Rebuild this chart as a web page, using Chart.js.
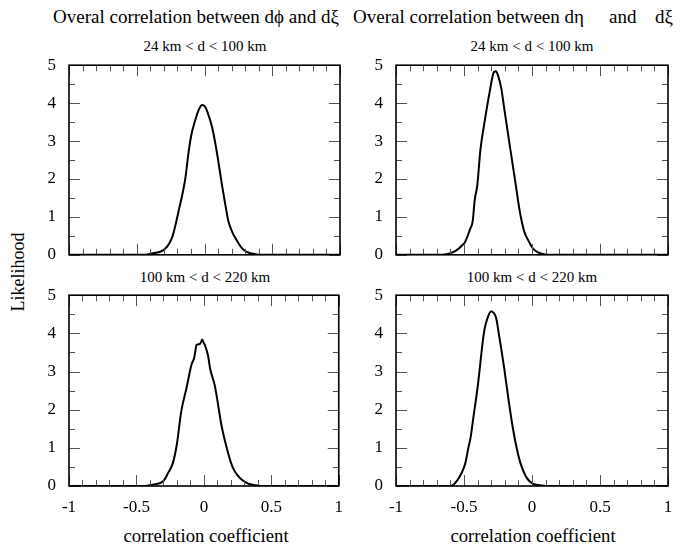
<!DOCTYPE html>
<html>
<head>
<meta charset="utf-8">
<script src="https://cdn.jsdelivr.net/npm/chart.js@4.4.0/dist/chart.umd.min.js"></script>
<style>
  body { margin: 0; background: #fff; }
  #page { position: relative; width: 693px; height: 548px; overflow: hidden; font-family: "Liberation Serif", "Times New Roman", serif; color: #000; }
  .box { position: absolute; }
  .txt { position: absolute; white-space: pre; transform: translate(-50%, -50%); line-height: 1; }
  .ttl { position: absolute; white-space: pre; transform: translate(0, -50%); line-height: 1; font-size: 19px; }
</style>
</head>
<body>
<div id="page">
  <div class="ttl" style="left:53px; top:16px;">Overal correlation between dϕ and dξ</div>
  <div class="ttl" style="left:353px; top:16px;">Overal correlation between dη</div>
  <div class="ttl" style="left:609px; top:16px;">and</div>
  <div class="ttl" style="left:655px; top:16px;">dξ</div>
  <div class="txt" style="left:205px; top:46px; font-size:15px;">24 km &lt; d &lt; 100 km</div>
  <div class="txt" style="left:532px; top:46px; font-size:15px;">24 km &lt; d &lt; 100 km</div>
  <div class="txt" style="left:205px; top:277px; font-size:15px;">100 km &lt; d &lt; 220 km</div>
  <div class="txt" style="left:532px; top:277px; font-size:15px;">100 km &lt; d &lt; 220 km</div>
  <div class="txt" style="left:206px; top:536px; font-size:18.7px;">correlation coefficient</div>
  <div class="txt" style="left:533px; top:536px; font-size:18.7px;">correlation coefficient</div>
  <div class="txt" style="left:18px; top:272px; font-size:18px; transform: translate(-50%, -50%) rotate(-90deg);">Likelihood</div>

  <div class="box" style="left:0; top:50px; width:346px; height:220px;"><canvas id="c1"></canvas></div>
  <div class="box" style="left:346px; top:50px; width:347px; height:220px;"><canvas id="c2"></canvas></div>
  <div class="box" style="left:0; top:280px; width:346px; height:235px;"><canvas id="c3"></canvas></div>
  <div class="box" style="left:346px; top:280px; width:347px; height:235px;"><canvas id="c4"></canvas></div>
</div>

<script>
// ---- data ----
const xTicks = [-1, -0.5, 0, 0.5, 1];
const yTicks = [0, 1, 2, 3, 4, 5];

// d(phi) vs d(xi), 24 km < d < 100 km
const phiNearX = [-1, -0.44, -0.40, -0.35, -0.30, -0.26, -0.235, -0.21, -0.185, -0.16, -0.14, -0.116, -0.095, -0.074, -0.042, -0.017, 0.005, 0.02, 0.057, 0.089, 0.131, 0.150, 0.176, 0.205, 0.238, 0.27, 0.30, 0.34, 0.385, 0.43, 1];
const phiNearY = [0, 0, 0.03, 0.06, 0.13, 0.30, 0.50, 0.85, 1.25, 1.65, 2.05, 2.75, 3.2, 3.48, 3.83, 3.95, 3.9, 3.78, 3.35, 2.75, 1.80, 1.4, 0.89, 0.60, 0.38, 0.20, 0.10, 0.04, 0.01, 0, 0];

// d(eta) vs d(xi), 24 km < d < 100 km
const etaNearX = [-1, -0.66, -0.62, -0.58, -0.54, -0.517, -0.493, -0.456, -0.436, -0.421, -0.402, -0.38, -0.348, -0.311, -0.28, -0.265, -0.25, -0.226, -0.201, -0.165, -0.128, -0.092, -0.076, -0.055, -0.027, 0.0, 0.035, 0.07, 0.12, 1];
const etaNearY = [0, 0, 0.02, 0.07, 0.16, 0.24, 0.33, 0.67, 0.89, 1.45, 1.84, 2.75, 3.52, 4.30, 4.82, 4.84, 4.73, 4.39, 3.78, 2.92, 2.05, 1.19, 0.89, 0.59, 0.38, 0.20, 0.08, 0.03, 0, 0];

// d(phi) vs d(xi), 100 km < d < 220 km
const phiFarX = [-1, -0.45, -0.42, -0.37, -0.30, -0.264, -0.23, -0.20, -0.168, -0.128, -0.091, -0.075, -0.067, -0.054, -0.03, -0.02, -0.013, 0.0, 0.007, 0.032, 0.045, 0.057, 0.081, 0.13, 0.155, 0.18, 0.20, 0.222, 0.25, 0.286, 0.33, 0.385, 0.42, 1];
const phiFarY = [0, 0, 0.01, 0.04, 0.13, 0.35, 0.6, 1.1, 1.95, 2.58, 3.19, 3.32, 3.45, 3.70, 3.72, 3.78, 3.84, 3.74, 3.70, 3.40, 3.1, 2.93, 2.63, 1.6, 1.2, 0.86, 0.62, 0.43, 0.28, 0.15, 0.06, 0.02, 0, 0];

// d(eta) vs d(xi), 100 km < d < 220 km
const etaFarX = [-1, -0.63, -0.59, -0.555, -0.518, -0.49, -0.468, -0.45, -0.434, -0.397, -0.365, -0.348, -0.324, -0.30, -0.285, -0.265, -0.24, -0.205, -0.17, -0.14, -0.11, -0.085, -0.062, -0.04, -0.016, 0.02, 0.06, 0.1, 1];
const etaFarY = [0, 0, 0.01, 0.12, 0.34, 0.6, 1.0, 1.3, 1.72, 2.67, 3.70, 4.13, 4.43, 4.58, 4.55, 4.42, 3.9, 3.1, 2.2, 1.5, 0.95, 0.6, 0.38, 0.22, 0.12, 0.04, 0.02, 0, 0];

Chart.defaults.font.family = 'Liberation Serif';
Chart.defaults.font.size = 17;
Chart.defaults.color = '#000';

// ---- frame + inward ticks on all four sides ----
const frameTicks = {
  id: 'frameTicks',
  afterDatasetsDraw(chart) {
    const ctx = chart.ctx;
    const a = chart.chartArea;
    const x = chart.scales.x;
    const y = chart.scales.y;
    ctx.save();
    ctx.strokeStyle = '#555';
    ctx.lineWidth = 1;
    ctx.beginPath();
    for (let i = 0; i <= 20; i++) {
      const px = Math.round(x.getPixelForValue(-1 + i * 0.1)) + 0.5;
      const len = i % 5 === 0 ? 11 : 6;
      ctx.moveTo(px, a.bottom); ctx.lineTo(px, a.bottom - len);
      ctx.moveTo(px, a.top); ctx.lineTo(px, a.top + len);
    }
    for (let i = 0; i <= 10; i++) {
      const py = Math.round(y.getPixelForValue(i * 0.5)) + 0.5;
      const len = i % 2 === 0 ? 11 : 6;
      ctx.moveTo(a.left, py); ctx.lineTo(a.left + len, py);
      ctx.moveTo(a.right, py); ctx.lineTo(a.right - len, py);
    }
    ctx.stroke();
    ctx.strokeStyle = '#000';
    ctx.lineWidth = 1.6;
    ctx.strokeRect(a.left, a.top, a.right - a.left, a.bottom - a.top);
    ctx.restore();
  }
};

const tickFont = { family: 'Liberation Serif', size: 17 };

function makePanel(id, xs, ys, opts) {
  const pts = xs.map((v, i) => ({ x: v, y: ys[i] }));
  return new Chart(document.getElementById(id), {
    type: 'scatter',
    data: {
      datasets: [{
        data: pts,
        showLine: true,
        borderColor: '#000',
        borderWidth: 2,
        pointRadius: 0,
        cubicInterpolationMode: 'monotone',
        fill: false
      }]
    },
    options: {
      responsive: true,
      maintainAspectRatio: false,
      animation: false,
      layout: { padding: { top: opts.top, right: opts.right, left: 0, bottom: 0 } },
      plugins: { legend: { display: false }, tooltip: { enabled: false } },
      scales: {
        x: {
          type: 'linear', min: -1, max: 1,
          grid: { display: false }, border: { display: false },
          afterBuildTicks: s => { s.ticks = xTicks.map(v => ({ value: v })); },
          ticks: { display: opts.showX, color: '#000', font: tickFont, padding: 3, maxRotation: 0,
                   callback: v => String(v) },
          afterFit: s => { s.height = opts.xh; }
        },
        y: {
          type: 'linear', min: 0, max: 5,
          grid: { display: false }, border: { display: false },
          afterBuildTicks: s => { s.ticks = yTicks.map(v => ({ value: v })); },
          ticks: { color: '#000', font: tickFont, padding: 5, callback: v => String(v) },
          afterFit: s => { s.width = opts.yw; }
        }
      }
    },
    plugins: [frameTicks]
  });
}

makePanel('c1', phiNearX, phiNearY, { top: 13, right: 6, xh: 14, yw: 69, showX: false });
makePanel('c2', etaNearX, etaNearY, { top: 13, right: 25, xh: 14, yw: 50, showX: false });
makePanel('c3', phiFarX, phiFarY, { top: 13, right: 6, xh: 29, yw: 69, showX: true });
makePanel('c4', etaFarX, etaFarY, { top: 13, right: 25, xh: 29, yw: 50, showX: true });
</script>
</body>
</html>
